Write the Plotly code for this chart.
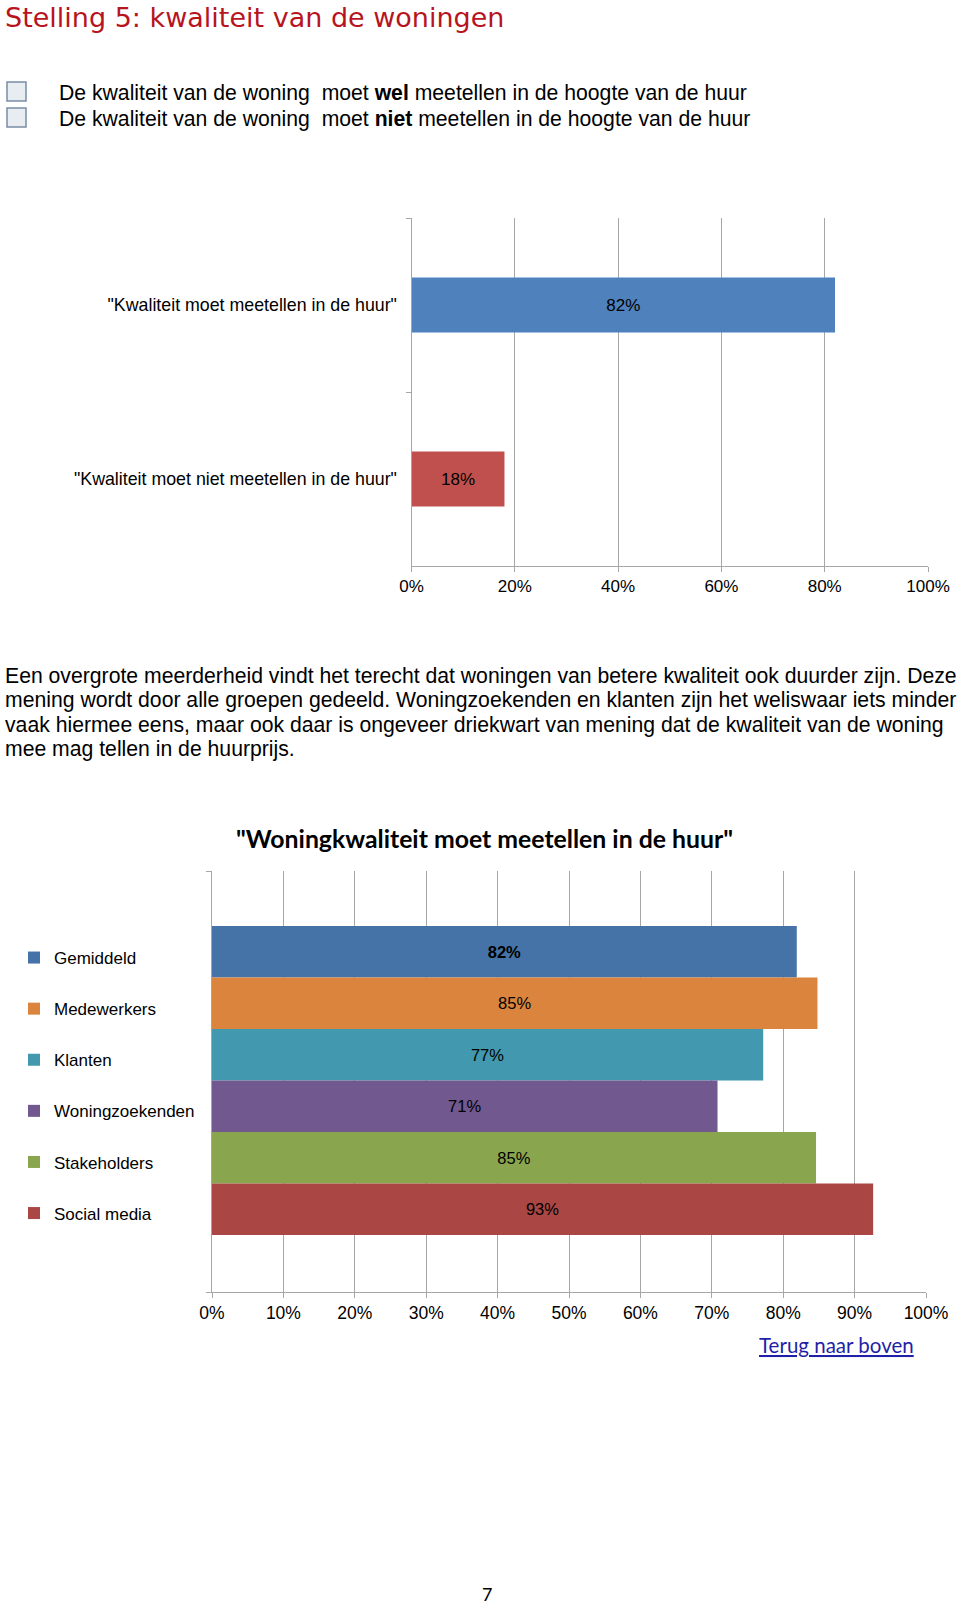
import plotly.graph_objects as go

W, H = 960, 1605

def px(x):
    return x / W

def py(y):
    return 1 - y / H

# ---------------- data ----------------
c1_categories = ['"Kwaliteit moet meetellen in de huur"', '"Kwaliteit moet niet meetellen in de huur"']
c1_values = [0.82, 0.18]
c1_colors = ["#4F81BD", "#C0504D"]

c2_groups = ["Gemiddeld", "Medewerkers", "Klanten", "Woningzoekenden", "Stakeholders", "Social media"]
c2_values = [0.819, 0.848, 0.772, 0.708, 0.846, 0.926]
c2_colors = ["#4572A7", "#DB843D", "#4198AF", "#71588F", "#89A54E", "#AA4643"]
c2_labels = ["<b>82%</b>", "85%", "77%", "71%", "85%", "93%"]

c1_ticks = [0, 0.2, 0.4, 0.6, 0.8, 1.0]
c2_ticks = [0, 0.1, 0.2, 0.3, 0.4, 0.5, 0.6, 0.7, 0.8, 0.9, 1.0]

paragraph = [
    "Een overgrote meerderheid vindt het terecht dat woningen van betere kwaliteit ook duurder zijn. Deze",
    "mening wordt door alle groepen gedeeld. Woningzoekenden en klanten zijn het weliswaar iets minder",
    "vaak hiermee eens, maar ook daar is ongeveer driekwart van mening dat de kwaliteit van de woning",
    "mee mag tellen in de huurprijs.",
]

ARIAL = "Liberation Sans, Arial, sans-serif"
CAL = "Lato, Open Sans, sans-serif"
TITLE = "DejaVu Sans, Open Sans, sans-serif"
GRID = "#A6A6A6"

fig = go.Figure()

# ---------------- chart 1 ----------------
for cat, val, col in zip(c1_categories, c1_values, c1_colors):
    fig.add_trace(go.Bar(
        x=[val], y=[cat], orientation="h", width=0.316,
        marker=dict(color=col, line=dict(width=0)),
        text=[f"{round(val*100)}%"], textposition="inside", insidetextanchor="middle",
        textfont=dict(family=ARIAL, size=17, color="#000000"),
        xaxis="x", yaxis="y", showlegend=False, hoverinfo="skip",
    ))

# ---------------- chart 2 ----------------
for i, (g, val, col, lab) in enumerate(zip(c2_groups, c2_values, c2_colors, c2_labels)):
    fig.add_trace(go.Bar(
        x=[val], y=[i], orientation="h", width=1.0, name=g, legendgroup=g,
        marker=dict(color=col, line=dict(width=0)),
        text=[lab], textposition="inside", insidetextanchor="middle",
        textfont=dict(family=ARIAL, size=16.5, color="#000000"),
        xaxis="x2", yaxis="y2", showlegend=True, hoverinfo="skip",
    ))

y2_range = [5.5 + 1.107, -0.5 - 1.068]

fig.update_layout(
    width=W, height=H,
    margin=dict(l=0, r=0, t=0, b=0, autoexpand=False),
    paper_bgcolor="white", plot_bgcolor="white",
    barmode="overlay",
    xaxis=dict(
        domain=[px(411.5), px(928)], anchor="y", range=[0, 1],
        tickvals=c1_ticks, tickformat=".0%", automargin=False,
        showgrid=True, gridcolor=GRID, gridwidth=1, zeroline=False,
        showline=True, linecolor=GRID, linewidth=1,
        ticks="outside", ticklen=5, tickcolor=GRID,
        tickfont=dict(family=ARIAL, size=17, color="#000000"),
    ),
    yaxis=dict(
        domain=[py(566), py(218)], anchor="x", automargin=False,
        type="category", categoryarray=c1_categories, autorange="reversed",
        showgrid=False, zeroline=False,
        showline=True, linecolor=GRID, linewidth=1,
        ticks="outside", ticklen=5, tickcolor=GRID, tickson="boundaries",
        ticklabelstandoff=10,
        tickfont=dict(family=ARIAL, size=17.8, color="#000000"),
    ),
    xaxis2=dict(
        domain=[px(212), px(926)], anchor="y2", range=[0, 1],
        tickvals=c2_ticks, tickformat=".0%", automargin=False,
        showgrid=True, gridcolor=GRID, gridwidth=1, zeroline=False,
        showline=True, linecolor=GRID, linewidth=1,
        ticks="outside", ticklen=5, tickcolor=GRID,
        tickfont=dict(family=ARIAL, size=17.5, color="#000000"),
    ),
    yaxis2=dict(
        domain=[py(1292), py(871)], anchor="x2", range=y2_range, automargin=False,
        tickvals=y2_range, showticklabels=False,
        showgrid=False, zeroline=False,
        showline=True, linecolor=GRID, linewidth=1,
        ticks="outside", ticklen=5, tickcolor=GRID,
    ),
    legend=dict(
        x=px(14), y=py(940), xanchor="left", yanchor="top",
        traceorder="grouped", tracegroupgap=26,
        font=dict(family=ARIAL, size=17, color="#000000"),
        bgcolor="rgba(0,0,0,0)", borderwidth=0,
    ),
)

ann = []
ann.append(dict(text="Stelling 5: kwaliteit van de woningen", x=px(3), y=1,
                xanchor="left", yanchor="top",
                font=dict(family=TITLE, size=27, color="#B8141E")))
ann.append(dict(text="De kwaliteit van de woning\u00a0 moet <b>wel</b> meetellen in de hoogte van de huur",
                x=px(57), y=py(93), xanchor="left", yanchor="middle",
                font=dict(family=ARIAL, size=21.2, color="#000000")))
ann.append(dict(text="De kwaliteit van de woning\u00a0 moet <b>niet</b> meetellen in de hoogte van de huur",
                x=px(57), y=py(119), xanchor="left", yanchor="middle",
                font=dict(family=ARIAL, size=21.2, color="#000000")))
for i, line in enumerate(paragraph):
    ann.append(dict(text=line, x=px(3), y=py(675.5 + i * 24.5), xanchor="left", yanchor="middle",
                    font=dict(family=ARIAL, size=21.2, color="#000000")))
ann.append(dict(text='<b>"Woningkwaliteit moet meetellen in de huur"</b>', x=px(484), y=py(838),
                xanchor="center", yanchor="middle",
                font=dict(family=CAL, size=24.8, color="#000000")))
ann.append(dict(text="<u>Terug naar boven</u>", x=px(757), y=py(1345), xanchor="left", yanchor="middle",
                font=dict(family=CAL, size=20.5, color="#1F1FA8")))
ann.append(dict(text="7", x=px(487), y=py(1594), xanchor="center", yanchor="middle",
                font=dict(family=CAL, size=18, color="#000000")))
for a in ann:
    a.update(xref="paper", yref="paper", showarrow=False)
fig.update_layout(annotations=ann)

shapes = []
for y0 in (82, 108):
    shapes.append(dict(type="rect", xref="paper", yref="paper",
                       x0=px(7), x1=px(26), y0=py(y0), y1=py(y0 + 19),
                       line=dict(color="#7A8CA5", width=1.5), fillcolor="#E8EDF2"))
fig.update_layout(shapes=shapes)

fig.write_html(
    "out.html",
    config={"displayModeBar": False},
    post_script="document.body.style.margin='0';document.body.style.overflow='hidden';",
)
